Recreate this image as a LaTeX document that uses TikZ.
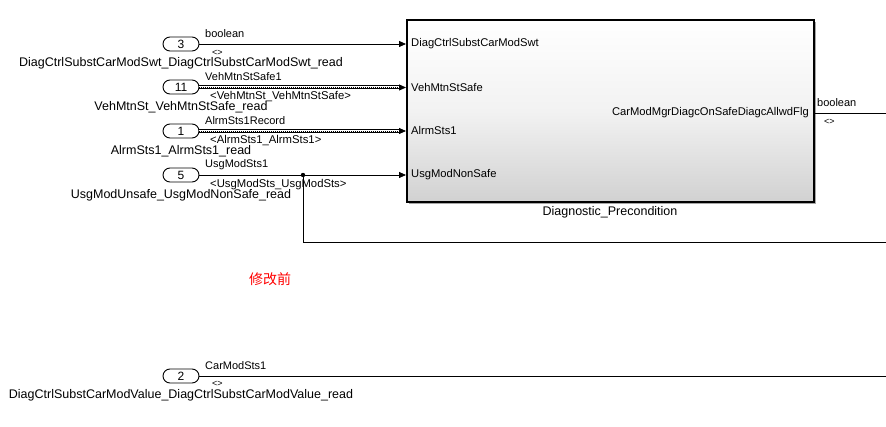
\documentclass[tikz,border=0pt]{standalone}
\usepackage{fontspec}
\setmainfont{Liberation Sans}
\newfontfamily\cjk{Noto Sans CJK SC}
\usetikzlibrary{arrows.meta,calc}
\begin{document}
\begin{tikzpicture}[x=1pt,y=-1pt,
  inport/.style={draw,line width=0.9pt,rounded corners=7pt,minimum width=36pt,minimum height=14pt,inner sep=0pt,font=\fontsize{12}{12}\selectfont},
  sig/.style={line width=0.8pt,-{Triangle[length=7pt,width=6pt]}},
  plain/.style={line width=0.8pt},
  sigtop/.style={anchor=west,inner sep=0pt,font=\fontsize{11}{11}\selectfont},
  sigbot/.style={anchor=west,inner sep=0pt,font=\fontsize{11.3}{11}\selectfont},
  tiny/.style={anchor=west,inner sep=0pt,font=\fontsize{9}{9}\selectfont},
  inname/.style={inner sep=0pt,font=\fontsize{12.5}{12}\selectfont},
  portlbl/.style={anchor=west,inner sep=0pt,font=\fontsize{11.2}{11}\selectfont},
  busout/.style={line width=3.2pt,shorten >=6pt},
  busin/.style={white,line width=1.4pt,shorten >=6pt},
  busdot/.style={line width=0.9pt,dash pattern=on 1pt off 1pt,shorten >=6pt}
]
\useasboundingbox (0,0) rectangle (886,427);

% block
\fill[black!35] (409,22) rectangle (816,204);
\node[draw,line width=1.6pt,top color=white,bottom color=black!18,middle color=white!95!black,
      minimum width=407pt,minimum height=182pt,inner sep=0pt,anchor=north west] (blk) at (406,19) {};
\node[inner sep=0pt,font=\fontsize{12.5}{12}\selectfont] (blkname) at (610,212) {Diagnostic\_Precondition};

\coordinate (p1) at (406,44);
\coordinate (p2) at (406,88);
\coordinate (p3) at (406,131);
\coordinate (p4) at (406,175);
\coordinate (po) at (813,113);
\node[portlbl] (l1) at (411,44) {DiagCtrlSubstCarModSwt};
\node[portlbl] (l2) at (411,88) {VehMtnStSafe};
\node[portlbl] (l3) at (411,131) {AlrmSts1};
\node[portlbl] (l4) at (411,175) {UsgModNonSafe};
\node[portlbl,anchor=east] (lo) at (809,113) {CarModMgrDiagcOnSafeDiagcAllwdFlg};

% inports
\node[inport] (in3) at (181,44) {3};
\node[inport] (in11) at (181,87) {11};
\node[inport] (in1) at (181,131) {1};
\node[inport] (in5) at (181,175) {5};
\node[inport] (in2) at (181,376) {2};

\node[inname] (n3) at (181,63) {DiagCtrlSubstCarModSwt\_DiagCtrlSubstCarModSwt\_read};
\node[inname] (n11) at (181,107) {VehMtnSt\_VehMtnStSafe\_read};
\node[inname] (n1) at (181,151) {AlrmSts1\_AlrmSts1\_read};
\node[inname] (n5) at (181,195) {UsgModUnsafe\_UsgModNonSafe\_read};
\node[inname] (n2) at (181,395) {DiagCtrlSubstCarModValue\_DiagCtrlSubstCarModValue\_read};

% signal 3
\draw[sig] (in3.east) -- (p1);
\node[sigtop] (s3a) at (205,34) {boolean};
\node[tiny] (s3b) at (212,53) {<>};

% signal 11 (bus)
\draw[busout] (in11.east) -- (p2 |- in11.east);
\draw[busin] (in11.east) -- (p2 |- in11.east);
\draw[busdot] (in11.east) -- (p2 |- in11.east);
\draw[sig] ($(p2)+(-7,-0.5)$) -- ($(p2)+(0,-0.5)$);
\node[sigtop] (s11a) at (205,77) {VehMtnStSafe1};
\node[sigbot] (s11b) at (210,97) {<VehMtnSt\_VehMtnStSafe>};

% signal 1 (bus)
\draw[busout] (in1.east) -- (p3);
\draw[busin] (in1.east) -- (p3);
\draw[busdot] (in1.east) -- (p3);
\draw[sig] ($(p3)+(-7,0)$) -- (p3);
\node[sigtop] (s1a) at (205,121) {AlrmSts1Record};
\node[sigbot] (s1b) at (210,141) {<AlrmSts1\_AlrmSts1>};

% signal 5
\coordinate (br) at (303,175);
\coordinate (bd) at (303,242);
\coordinate (be) at (886,242);
\draw[sig] (in5.east) -- (p4);
\fill (br) circle (2.2pt);
\draw[plain] (br) -- (bd) -- (be);
\node[sigtop] (s5a) at (205,165) {UsgModSts1};
\node[sigbot] (s5b) at (210,185) {<UsgModSts\_UsgModSts>};

% output
\coordinate (oe) at (886,113);
\draw[plain] (po) -- (oe);
\node[sigtop] (soa) at (817,103) {boolean};
\node[tiny] (sob) at (824,122) {<>};

% signal 2
\coordinate (e2) at (886,376);
\draw[plain] (in2.east) -- (e2);
\node[sigtop] (s2a) at (205,366) {CarModSts1};
\node[tiny] (s2b) at (212,384) {<>};

% note
\node[inner sep=0pt,text=red,font=\cjk\fontsize{14}{14}\selectfont] (note) at (270,279) {修改前};
\end{tikzpicture}
\end{document}
